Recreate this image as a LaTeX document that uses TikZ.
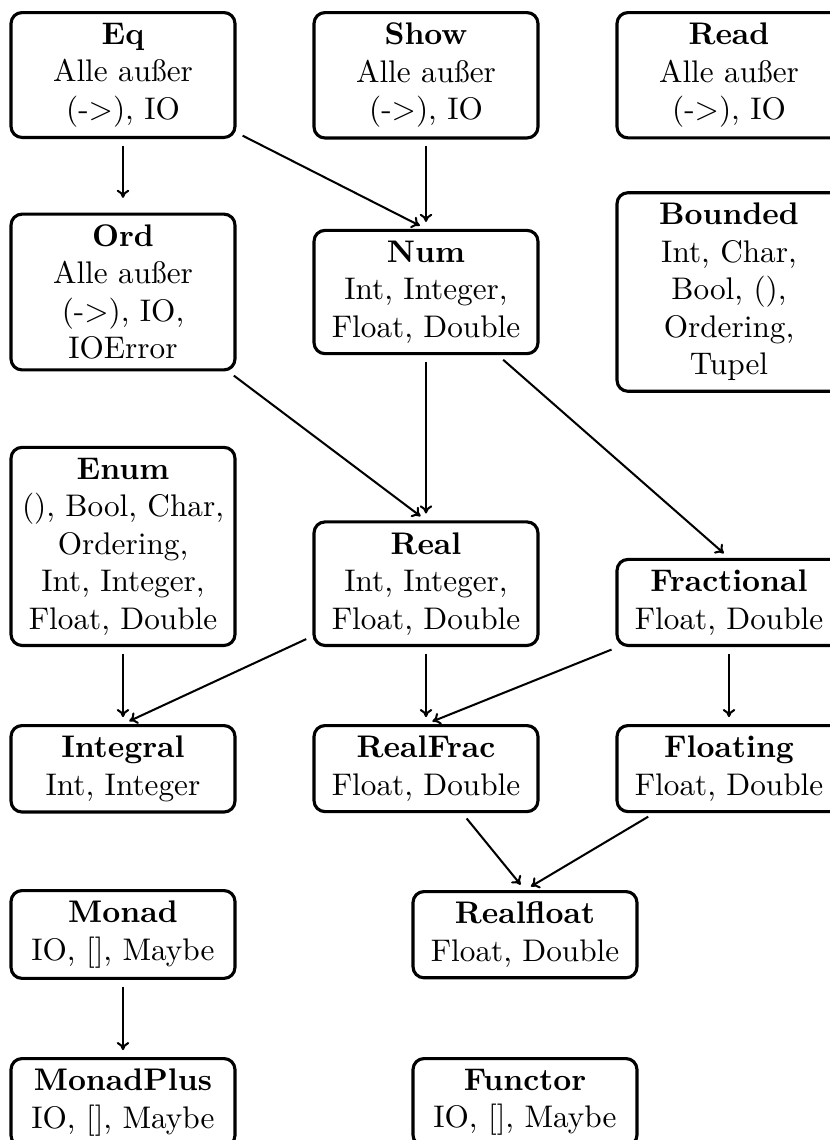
\documentclass[tikz,border=0pt]{standalone}
\usepackage{fontspec}
\usetikzlibrary{arrows.meta}
\begin{document}
\begin{tikzpicture}[x=0.32pt,y=-0.32pt,
  box/.style={draw, line width=1pt, rounded corners=3.5pt, text width=65pt, align=center, inner sep=3.33pt},
  arr/.style={-{To[length=2.6pt, width=4pt]}, line width=0.65pt, shorten >=2.2pt, shorten <=2.2pt}]
\useasboundingbox (0,0) rectangle (830,1140);
% row 1
\node[box, anchor=north] (eq)   at (123,11) {\textbf{Eq}\\Alle außer\\(->), IO};
\node[box, anchor=north] (show) at (426,11) {\textbf{Show}\\Alle außer\\(->), IO};
\node[box, anchor=north] (read) at (729,11) {\textbf{Read}\\Alle außer\\(->), IO};
% row 2
\node[box] (ord) at (123,292) {\textbf{Ord}\\Alle außer\\(->), IO,\\IOError};
\node[box] (num) at (426,292) {\textbf{Num}\\Int, Integer,\\Float, Double};
\node[box] (bounded) at (729,292) {\textbf{Bounded}\\Int, Char,\\Bool, (),\\Ordering,\\Tupel};
% row 3
\node[box, anchor=south] (enum) at (123,647) {\textbf{Enum}\\(), Bool, Char,\\Ordering,\\Int, Integer,\\Float, Double};
\node[box, anchor=south] (real) at (426,647) {\textbf{Real}\\Int, Integer,\\Float, Double};
\node[box, anchor=south] (frac) at (729,647) {\textbf{Fractional}\\Float, Double};
% row 4
\node[box, anchor=north] (integral) at (123,724) {\textbf{Integral}\\Int, Integer};
\node[box, anchor=north] (realfrac) at (426,724) {\textbf{RealFrac}\\Float, Double};
\node[box, anchor=north] (floating) at (729,724) {\textbf{Floating}\\Float, Double};
% row 5
\node[box, anchor=north] (monad) at (123,889) {\textbf{Monad}\\IO, [], Maybe};
\node[box, anchor=north] (realfloat) at (525,890) {\textbf{Realfloat}\\Float, Double};
% row 6
\node[box, anchor=north] (monadplus) at (123,1057) {\textbf{MonadPlus}\\IO, [], Maybe};
\node[box, anchor=north] (functor) at (525,1057) {\textbf{Functor}\\IO, [], Maybe};
% arrows
\draw[arr, shorten >=4.7pt] (eq) -- (ord.north);
\draw[arr] (eq) -- (num.north);
\draw[arr] (show) -- (num.north);
\draw[arr] (ord) -- (real.north);
\draw[arr] (num) -- (real.north);
\draw[arr] (num) -- (frac.north);
\draw[arr] (enum) -- (integral.north);
\draw[arr] (real) -- (integral.north);
\draw[arr] (real) -- (realfrac.north);
\draw[arr] (frac) -- (realfrac.north);
\draw[arr] (frac) -- (floating.north);
\draw[arr] (realfrac) -- (realfloat.north);
\draw[arr] (floating) -- (realfloat.north);
\draw[arr] (monad) -- (monadplus.north);
\end{tikzpicture}
\end{document}
